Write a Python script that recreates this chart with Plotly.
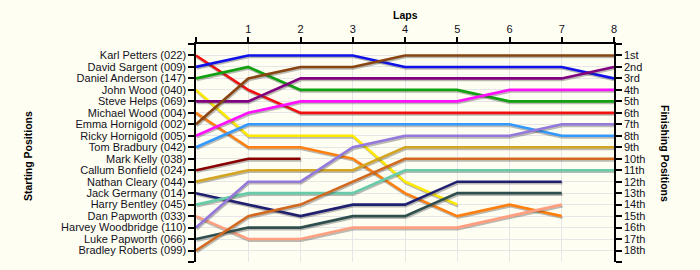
import plotly.graph_objects as go

# ---------------- data ----------------
laps = [0, 1, 2, 3, 4, 5, 6, 7, 8]
lap_labels = ["", "1", "2", "3", "4", "5", "6", "7", "8"]

start_names = [
    "Karl Petters (022)", "David Sargent (009)", "Daniel Anderson (147)",
    "John Wood (040)", "Steve Helps (069)", "Michael Wood (004)",
    "Emma Hornigold (002)", "Ricky Hornigold (005)", "Tom Bradbury (042)",
    "Mark Kelly (038)", "Callum Bonfield (024)", "Nathan Cleary (044)",
    "Jack Germany (014)", "Harry Bentley (045)", "Dan Papworth (033)",
    "Harvey Woodbridge (110)", "Luke Papworth (066)", "Bradley Roberts (099)",
]
finish_labels = ["1st", "2nd", "3rd", "4th", "5th", "6th", "7th", "8th", "9th",
                 "10th", "11th", "12th", "13th", "14th", "15th", "16th", "17th", "18th"]

N = None
karl_petters      = [1, 4, 6, 6, 6, 6, 6, 6, 6]
david_sargent     = [2, 1, 1, 1, 2, 2, 2, 2, 3]
daniel_anderson   = [3, 2, 4, 4, 4, 4, 5, 5, 5]
john_wood         = [4, 8, 8, 8, 12, 14, N, N, N]
steve_helps       = [5, 5, 3, 3, 3, 3, 3, 3, 2]
michael_wood      = [6, 9, 9, 10, 13, 15, 14, 15, N]
emma_hornigold    = [7, 3, 2, 2, 1, 1, 1, 1, 1]
ricky_hornigold   = [8, 6, 5, 5, 5, 5, 4, 4, 4]
tom_bradbury      = [9, 7, 7, 7, 7, 7, 7, 8, 8]
callum_bonfield   = [11, 10, 10, N, N, N, N, N, N]
nathan_cleary     = [12, 11, 11, 11, 9, 9, 9, 9, 9]
jack_germany      = [13, 14, 15, 14, 14, 12, 12, 12, N]
harry_bentley     = [14, 13, 13, 13, 11, 11, 11, 11, 11]
dan_papworth      = [15, 17, 17, 16, 16, 16, 15, 14, N]
harvey_woodbridge = [16, 12, 12, 9, 8, 8, 8, 7, 7]
luke_papworth     = [17, 16, 16, 15, 15, 13, 13, 13, N]
bradley_roberts   = [18, 15, 14, 12, 10, 10, 10, 10, 10]

series = [
    karl_petters, david_sargent, daniel_anderson, john_wood, steve_helps,
    michael_wood, emma_hornigold, ricky_hornigold, tom_bradbury,
    callum_bonfield, nathan_cleary, jack_germany, harry_bentley,
    dan_papworth, harvey_woodbridge, luke_papworth, bradley_roberts,
]

# ---------------- style ----------------
colors = [
    "#F01010", "#1010E8", "#10A010", "#FFE800", "#800080",
    "#FF8010", "#884411", "#FF10FF", "#3399FF",
    "#880000", "#D4A520", "#202070", "#66CCAA",
    "#FF9F80", "#9478DB", "#2F4F4F", "#D2691E",
]

W, H = 700, 270
ML, MR, MT, MB = 196, 86, 44, 8
plot_w = W - ML - MR
plot_h = H - MT - MB
y_range = [19, 0]
px_per_unit_y = plot_h / 19
px_per_unit_x = plot_w / 8
sdy = 1.6 / px_per_unit_y
sdx = 0.8 / px_per_unit_x

font_family = "Liberation Sans, Arial, sans-serif"
txt_color = "#111122"

fig = go.Figure()

for vals, col in zip(series, colors):
    fig.add_trace(go.Scatter(
        x=[l + sdx for l in laps],
        y=[(v + sdy) if v is not None else None for v in vals],
        mode="lines", line=dict(color="rgba(60,60,60,0.35)", width=2.6),
        hoverinfo="skip", showlegend=False))
    fig.add_trace(go.Scatter(
        x=laps, y=vals, mode="lines",
        line=dict(color=col, width=2.6),
        showlegend=False))

# invisible trace for the right axis
fig.add_trace(go.Scatter(x=[0], y=[1], yaxis="y2", mode="markers",
                         marker=dict(opacity=0), showlegend=False, hoverinfo="skip"))

ytick_vals = list(range(0, 20))
left_text = [""] + start_names + [""]
right_text = [""] + finish_labels + [""]

fig.update_layout(
    width=W, height=H,
    margin=dict(l=ML, r=MR, t=MT, b=MB, pad=0),
    paper_bgcolor="#FFFEF2",
    plot_bgcolor="#FFFEF2",
    font=dict(family=font_family, size=11, color=txt_color),
    xaxis=dict(
        range=[0, 8], side="top", tickvals=laps, ticktext=lap_labels,
        showline=True, linecolor="#000000", linewidth=1.5,
        ticks="outside", ticklen=5, tickcolor="#000000", tickwidth=1.5,
        showgrid=True, gridcolor="#E6E6E6", gridwidth=1,
        zeroline=False, fixedrange=True,
    ),
    yaxis=dict(
        range=y_range, tickvals=ytick_vals, ticktext=left_text,
        showline=True, linecolor="#000000", linewidth=1.5,
        ticks="outside", ticklen=6, tickcolor="#000000", tickwidth=1.5,
        showgrid=True, gridcolor="#E6E6E6", gridwidth=1,
        zeroline=False, fixedrange=True,
    ),
    yaxis2=dict(
        range=y_range, tickvals=ytick_vals, ticktext=right_text,
        overlaying="y", side="right",
        showline=True, linecolor="#000000", linewidth=1.5,
        ticks="outside", ticklen=6, tickcolor="#000000", tickwidth=1.5,
        showgrid=False, zeroline=False, fixedrange=True,
    ),
    annotations=[
        dict(text="<b>Laps</b>", xref="paper", yref="paper",
             x=0.5, y=(H - MB - 14.5) / plot_h, showarrow=False,
             font=dict(size=10.5, family=font_family, color="#000000"),
             xanchor="center", yanchor="middle"),
        dict(text="<b>Starting Positions</b>", xref="paper", yref="paper",
             x=(28 - ML) / plot_w, y=(H - MB - 156) / plot_h, showarrow=False,
             textangle=-90,
             font=dict(size=10.5, family=font_family, color="#000000"),
             xanchor="center", yanchor="middle"),
        dict(text="<b>Finishing Positions</b>", xref="paper", yref="paper",
             x=(665 - ML) / plot_w, y=(H - MB - 153) / plot_h, showarrow=False,
             textangle=90,
             font=dict(size=10.5, family=font_family, color="#000000"),
             xanchor="center", yanchor="middle"),
    ],
)

fig.write_html("out.html", config={"displayModeBar": False})
